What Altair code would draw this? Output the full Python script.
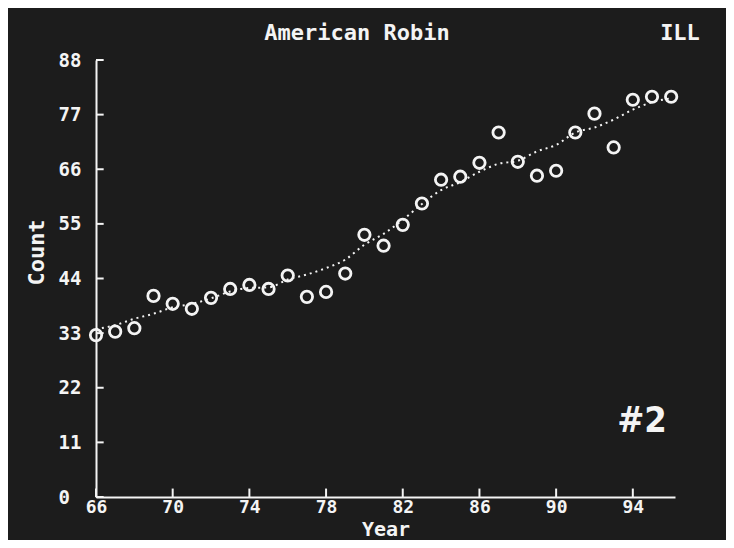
import altair as alt
import pandas as pd

years = list(range(66, 97))
counts = [32.6, 33.3, 34.0, 40.5, 38.9, 37.9, 40.1, 41.9, 42.7, 41.9, 44.6,
          40.3, 41.3, 45.0, 52.8, 50.6, 54.8, 59.1, 63.9, 64.5, 67.3, 73.4,
          67.5, 64.7, 65.7, 73.4, 77.2, 70.4, 80.0, 80.6, 80.6]
trend = [33.8, 34.6, 35.9, 36.9, 38.2, 38.9, 40.0, 41.4, 42.1, 42.2, 43.8,
         44.8, 46.1, 47.8, 50.8, 53.0, 55.8, 59.0, 61.8, 63.4, 65.5, 67.1,
         67.7, 69.6, 70.9, 73.4, 74.4, 76.0, 78.0, 79.5, 80.3]
x_ticks = [66, 70, 74, 78, 82, 86, 90, 94]
y_ticks = [0, 11, 22, 33, 44, 55, 66, 77, 88]

title_text = "American Robin"
corner_text = "ILL"
panel_text = "#2"

FONT = "DejaVu Sans Mono"
FG = "#f4f4f4"
BG = "#1c1c1c"

df = pd.DataFrame({"year": years, "count": counts, "trend": trend})
xt = pd.DataFrame({"year": x_ticks})
yt = pd.DataFrame({"count": y_ticks})

xscale = alt.Scale(domain=[66, 96.2], nice=False, zero=False)
yscale = alt.Scale(domain=[0, 88], nice=False)

xaxis = alt.Axis(values=x_ticks, title="Year", labelPadding=1, labelFlush=False,
                 labelFontSize=18,
                 titleX=289.5, titleY=38, titleBaseline="alphabetic",
                 titleAlign="center", titleFontSize=20)
yaxis = alt.Axis(values=y_ticks, title="Count", labelAlign="left", labelPadding=38,
                 labelBaseline="middle", titleX=-60, titleY=192, titleAngle=270,
                 titleAlign="center", titleBaseline="middle")

base = alt.Chart(df)

points = base.mark_point(shape="circle", filled=False, size=130, strokeWidth=2.8,
                         color=FG, opacity=1).encode(
    x=alt.X("year:Q", scale=xscale, axis=xaxis),
    y=alt.Y("count:Q", scale=yscale, axis=yaxis),
)

line = base.mark_line(color=FG, strokeWidth=2, strokeDash=[2, 4],
                      interpolate="monotone").encode(
    x=alt.X("year:Q", scale=xscale),
    y=alt.Y("trend:Q", scale=yscale),
)

xticks = alt.Chart(xt).mark_rule(color=FG, strokeWidth=2).encode(
    x=alt.X("year:Q", scale=xscale),
    y=alt.datum(0),
    y2=alt.datum(1.7),
)

yticks = alt.Chart(yt).mark_rule(color=FG, strokeWidth=2).encode(
    x=alt.datum(66),
    x2=alt.datum(66.4),
    y=alt.Y("count:Q", scale=yscale),
)

heading = alt.Chart(pd.DataFrame({"t": [title_text]})).mark_text(
    font=FONT, fontSize=22, fontWeight="bold", color=FG, align="center",
    baseline="alphabetic").encode(
    text="t:N", x=alt.value(261), y=alt.value(-20))

corner = alt.Chart(pd.DataFrame({"t": [corner_text]})).mark_text(
    font=FONT, fontSize=22, fontWeight="bold", color=FG, align="center",
    baseline="alphabetic").encode(
    text="t:N", x=alt.value(584), y=alt.value(-20))

panel = alt.Chart(pd.DataFrame({"t": [panel_text]})).mark_text(
    font="DejaVu Sans Condensed, Liberation Sans, Arial, sans-serif",
    fontSize=36, fontWeight="bold", color=FG,
    align="center", baseline="alphabetic").encode(
    text="t:N", x=alt.value(546), y=alt.value(372))

chart = alt.layer(xticks, yticks, line, points, heading, corner, panel).properties(
    width=579,
    height=437,
    background=BG,
    padding={"left": 88, "top": 52, "right": 51, "bottom": 43},
    autosize=alt.AutoSizeParams(type="none"),
).configure_view(stroke=None).configure_axis(
    domainColor=FG, domainWidth=2, ticks=False, grid=False,
    labelColor=FG, labelFont=FONT, labelFontSize=19, labelFontWeight="bold",
    titleColor=FG, titleFont=FONT, titleFontSize=22, titleFontWeight="bold",
)

chart.save("out.html", embed_options={"renderer": "svg", "actions": False})
